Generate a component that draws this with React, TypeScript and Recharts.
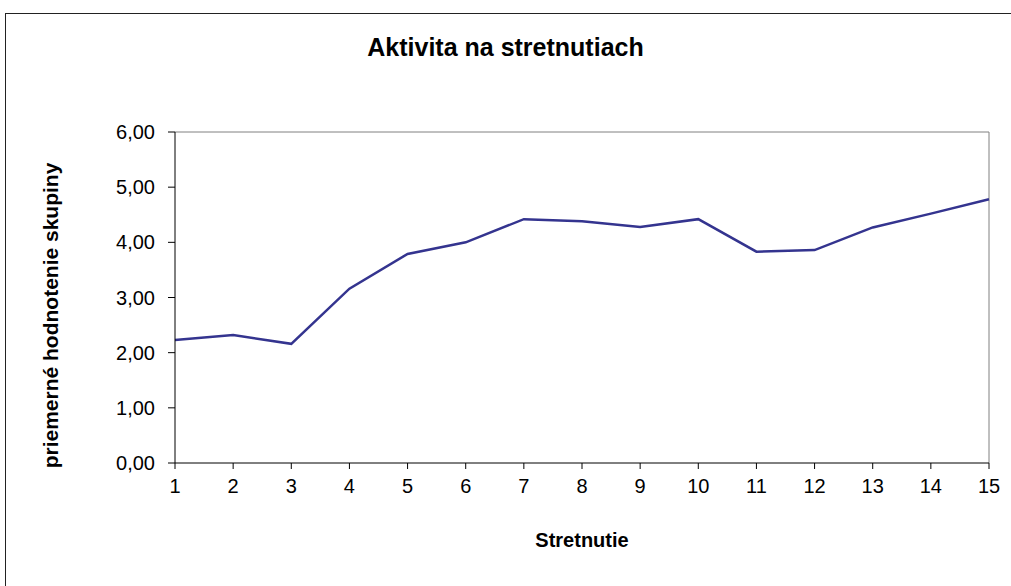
import { Label, Line, LineChart, ReferenceLine, XAxis, YAxis } from "recharts";

const meetings = [1, 2, 3, 4, 5, 6, 7, 8, 9, 10, 11, 12, 13, 14, 15];
const groupScores = [2.23, 2.32, 2.16, 3.16, 3.79, 4.0, 4.42, 4.38, 4.28, 4.42, 3.83, 3.86, 4.27, 4.52, 4.78];
const yTicks = [0, 1, 2, 3, 4, 5, 6];

const chartTitle = "Aktivita na stretnutiach";
const xTitle = "Stretnutie";
const yTitle = "priemerné hodnotenie skupiny";

const data = meetings.map((meeting, i) => ({ meeting, score: groupScores[i] }));

const FONT = "'Liberation Sans', Arial, sans-serif";

const formatScore = (v: number) => v.toFixed(2).replace(".", ",");

function YTitle({ viewBox }: any) {
  const cy = viewBox.y + viewBox.height / 2 + 18;
  const x = 50;
  return (
    <text
      x={x}
      y={cy}
      transform={`rotate(-90, ${x}, ${cy})`}
      textAnchor="middle"
      dominantBaseline="central"
      fontFamily={FONT}
      fontWeight="bold"
      fontSize={21}
      fill="#000"
    >
      {yTitle}
    </text>
  );
}

function XTitle({ viewBox }: any) {
  const cx = viewBox.x + viewBox.width / 2;
  return (
    <text
      x={cx}
      y={540}
      textAnchor="middle"
      dominantBaseline="central"
      fontFamily={FONT}
      fontWeight="bold"
      fontSize={20}
      fill="#000"
    >
      {xTitle}
    </text>
  );
}

export default function App() {
  return (
    <div style={{ position: "absolute", left: 0, top: 0, width: 1011, height: 586, background: "#fff", overflow: "hidden" }}>
      <div
        style={{
          position: "absolute",
          left: 5,
          top: 13,
          width: 1020,
          height: 600,
          border: "1px solid #222",
          boxSizing: "border-box",
        }}
      />
      <div
        style={{
          position: "absolute",
          left: 0,
          top: 30,
          width: 1011,
          textAlign: "center",
          fontFamily: FONT,
          fontWeight: "bold",
          fontSize: 25,
          lineHeight: "34px",
          color: "#000",
        }}
      >
        {chartTitle}
      </div>
      <LineChart
        width={1011}
        height={586}
        data={data}
        margin={{ top: 132, right: 22, left: 0, bottom: 0 }}
        style={{ position: "absolute", left: 0, top: 0 }}
      >
        <XAxis
          dataKey="meeting"
          type="number"
          domain={[1, 15]}
          ticks={meetings}
          height={123}
          axisLine={{ stroke: "#000" }}
          tickLine={{ stroke: "#000" }}
          tickSize={6}
          tickMargin={10}
          tick={{ fill: "#000", fontSize: 20, fontFamily: FONT }}
        >
          <Label content={<XTitle />} />
        </XAxis>
        <YAxis
          type="number"
          domain={[0, 6]}
          ticks={yTicks}
          width={175}
          tickFormatter={formatScore}
          axisLine={{ stroke: "#000" }}
          tickLine={{ stroke: "#000" }}
          tickSize={7}
          tickMargin={13}
          tick={{ fill: "#000", fontSize: 20, fontFamily: FONT }}
        >
          <Label content={<YTitle />} />
        </YAxis>
        <ReferenceLine y={6} stroke="#808080" strokeWidth={1} />
        <ReferenceLine x={15} stroke="#808080" strokeWidth={1} />
        <Line
          type="linear"
          dataKey="score"
          stroke="#34348f"
          strokeWidth={2.5}
          dot={false}
          isAnimationActive={false}
        />
      </LineChart>
    </div>
  );
}
